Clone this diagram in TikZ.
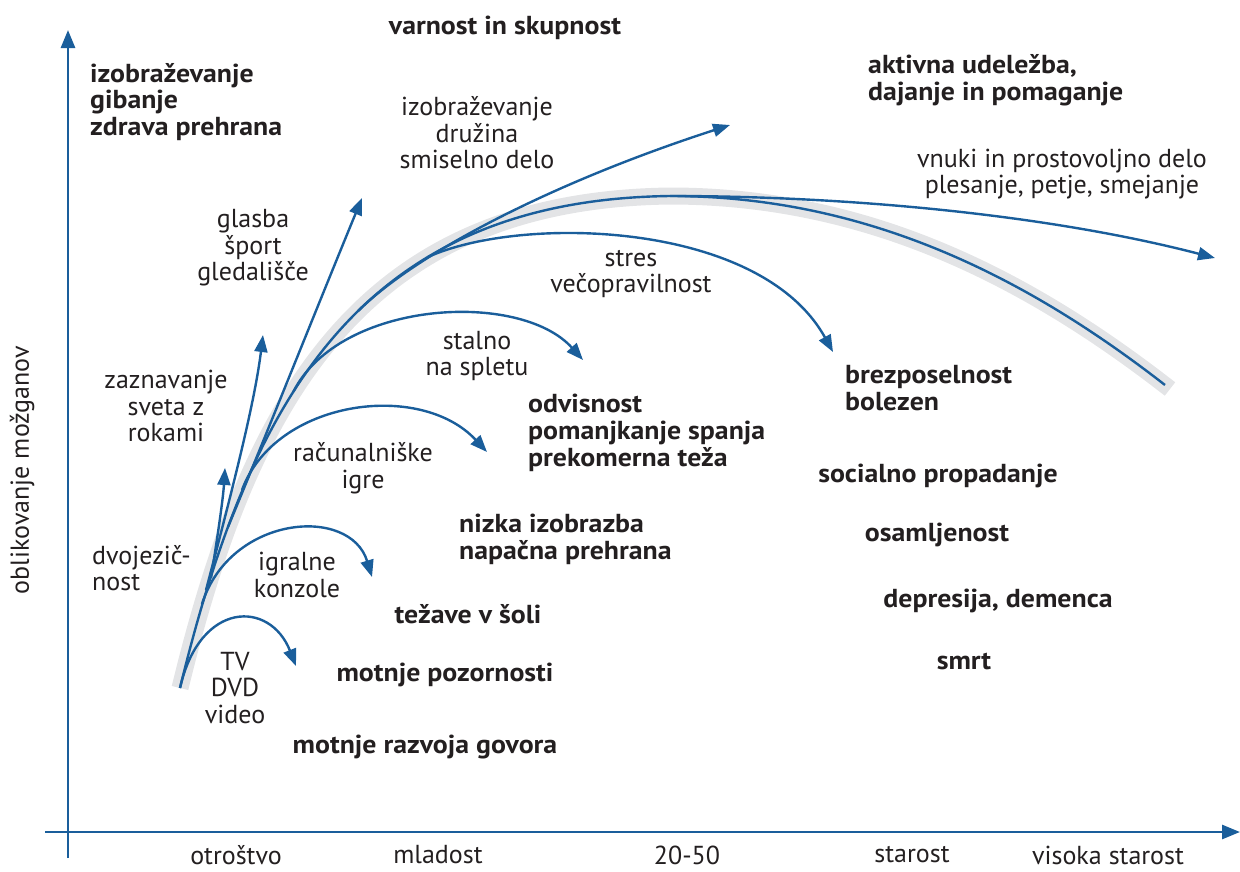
\documentclass[tikz,border=0pt]{standalone}
\usepackage{fontspec}
\setmainfont{PT Sans}
\newfontfamily\boldfam{PT Sans}[FakeStretch=1.07]
\usetikzlibrary{arrows.meta}
\definecolor{cblue}{HTML}{1A5E9B}
\definecolor{ctext}{HTML}{231F20}
\definecolor{cband}{HTML}{E3E4E6}
\begin{document}
\begin{tikzpicture}[x=1pt,y=-1pt,
  lbl/.style={text=ctext, font=\fontsize{26}{26.5}\selectfont, align=center, inner sep=0pt},
  blbl/.style={text=ctext, font=\fontsize{26}{26.8}\selectfont\boldfam\bfseries, align=center, inner sep=0pt},
  curve/.style={cblue, line width=2.4pt},
  arr/.style={curve, -{Triangle[length=17pt,width=13pt]}},
  axis/.style={cblue, line width=2.8pt, -{Triangle[length=18pt,width=14pt]}},
  band/.style={cband, line width=17pt},
]
\useasboundingbox (0,0) rectangle (1240,871);

% coordinates
\coordinate (yb) at (68,858);
\coordinate (yt) at (68,30);
\coordinate (xl) at (45,832);
\coordinate (xr) at (1240,832);
\coordinate (O) at (180,688);
\coordinate (P) at (670,196);
\coordinate (E) at (1165,385);
\coordinate (B2) at (211,578);
\coordinate (B3) at (206,590);
\coordinate (B1) at (202,604);
\coordinate (B4) at (228,527);
\coordinate (B5) at (242,490);
\coordinate (B6) at (293.5,391.5);
\coordinate (B7) at (358,311);
\coordinate (B8) at (428,257);
\coordinate (T1) at (296,666);
\coordinate (T2) at (372,577);
\coordinate (T3) at (225,468);
\coordinate (T4) at (263,335);
\coordinate (T5) at (362,198);
\coordinate (T6) at (487,452);
\coordinate (T7) at (583,360);
\coordinate (T8) at (833,352);
\coordinate (T9) at (730,125);
\coordinate (T10) at (1215,258);

% band
\draw[band] (O) .. controls (250,400) and (360,200) .. (P) .. controls (870,196) and (1030,280) .. (1170,389);

% axes
\draw[axis] (yb) -- (yt);
\draw[axis] (xl) -- (xr);

% main curve
\draw[curve] (O) .. controls (250,400) and (360,200) .. (P) .. controls (870,196) and (1030,280) .. (E);

% branches
\draw[arr] (O) .. controls (200,600) and (270,600) .. (T1);
\draw[arr] (B1) .. controls (230,515) and (350,505) .. (T2);
\draw[arr] (B2) .. controls (217,540) and (223,500) .. (T3);
\draw[arr] (B3) .. controls (235,480) and (255,400) .. (T4);
\draw[arr] (B4) .. controls (260,450) and (320,300) .. (T5);
\draw[arr] (B5) .. controls (275,400) and (420,380) .. (T6);
\draw[arr] (B6) .. controls (340,300) and (520,290) .. (T7);
\draw[arr] (B7) .. controls (420,250) and (560,180) .. (T9);
\draw[arr] (B8) .. controls (520,215) and (760,220) .. (T8);
\draw[arr] (P) .. controls (850,196) and (1050,215) .. (T10);

% axis labels
\node[lbl] (a1) at (236,855) {otroštvo};
\node[lbl] (a2) at (438,855) {mladost};
\node[lbl] (a3) at (687,855) {20-50};
\node[lbl] (a4) at (912,855) {starost};
\node[lbl] (a5) at (1108,855) {visoka starost};
\node[lbl, rotate=90] (ay) at (22,470) {oblikovanje možganov};

% labels
\node[blbl] (n1) at (505,28) {varnost in skupnost};
\node[blbl, anchor=west, align=left] (n2) at (90,102) {izobraževanje\\gibanje\\zdrava prehrana};
\node[blbl, anchor=west, align=left] (n3) at (868,80) {aktivna udeležba,\\dajanje in pomaganje};
\node[lbl] (n4) at (477,133) {izobraževanje\\družina\\smiselno delo};
\node[lbl] (n5) at (1062,174) {vnuki in prostovoljno delo\\plesanje, petje, smejanje};
\node[lbl] (n6) at (253,248) {glasba\\šport\\gledališče};
\node[lbl] (n7) at (631,274) {stres\\večopravilnost};
\node[lbl] (n8) at (477,356) {stalno\\na spletu};
\node[lbl] (n9) at (166,406) {zaznavanje\\sveta z\\rokami};
\node[blbl, anchor=west, align=left] (n10) at (845,388) {brezposelnost\\bolezen};
\node[blbl, anchor=west, align=left] (n11) at (528,433) {odvisnost\\pomanjkanje spanja\\prekomerna teža};
\node[lbl] (n12) at (363,468) {računalniške\\igre};
\node[blbl] (n13) at (938,476) {socialno propadanje};
\node[blbl, anchor=west, align=left] (n14) at (459,539) {nizka izobrazba\\napačna prehrana};
\node[blbl] (n15) at (937,535) {osamljenost};
\node[lbl, anchor=west, align=left] (n16) at (92,568) {dvojezič-\\nost};
\node[lbl] (n17) at (297,575) {igralne\\konzole};
\node[blbl] (n18) at (998,601) {depresija, demenca};
\node[blbl] (n19) at (468,614) {težave v šoli};
\node[lbl] (n20) at (235,688) {TV\\DVD\\video};
\node[blbl] (n21) at (445,675) {motnje pozornosti};
\node[blbl] (n22) at (964,661) {smrt};
\node[blbl] (n23) at (425,747) {motnje razvoja govora};
\end{tikzpicture}
\end{document}
